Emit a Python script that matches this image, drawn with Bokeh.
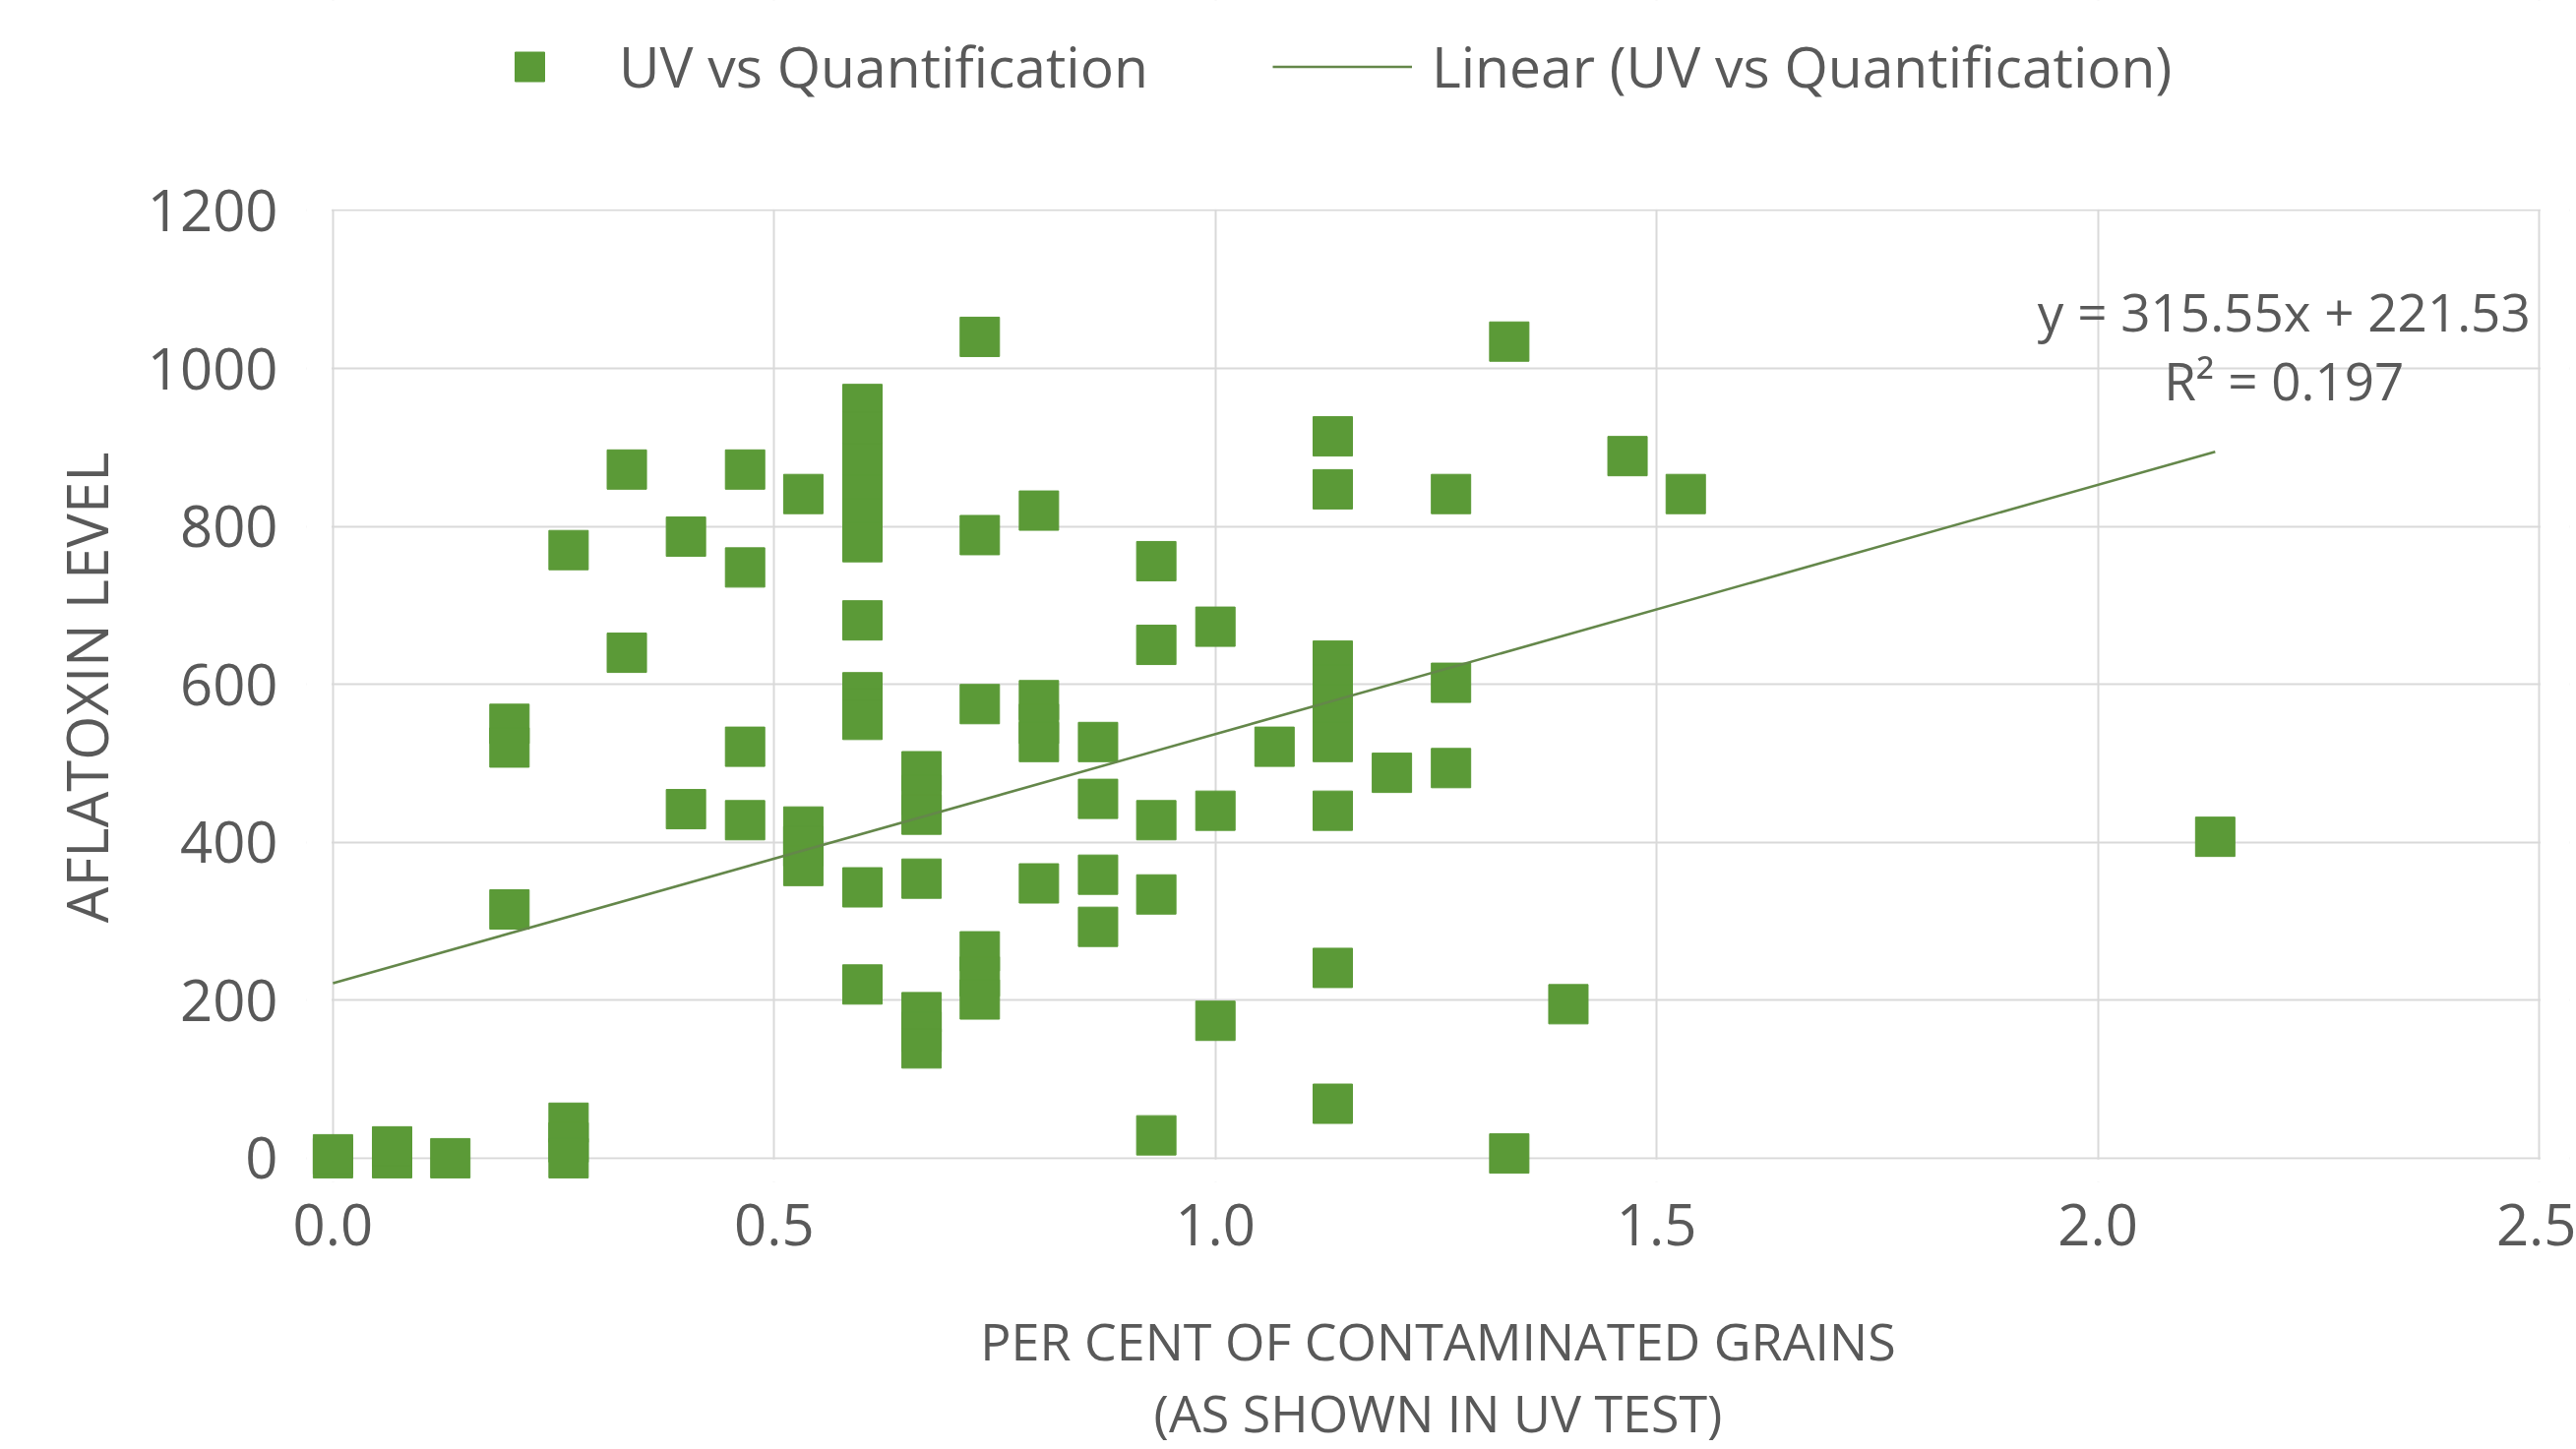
from bokeh.plotting import figure
from bokeh.models import (Range1d, FixedTicker, NumeralTickFormatter, Legend,
                          LegendItem, Label, ColumnDataSource, BoxAnnotation)
from bokeh.embed import file_html
from bokeh.resources import INLINE

# ---------------- data ----------------
percent_grains = (
    [0.0, 0.0]
    + [0.067, 0.067]
    + [0.133]
    + [0.2] * 3
    + [0.267] * 4
    + [0.333] * 2
    + [0.4] * 2
    + [0.467] * 4
    + [0.533] * 4
    + [0.6] * 12
    + [0.667] * 7
    + [0.733] * 6
    + [0.8] * 5
    + [0.867] * 4
    + [0.933] * 5
    + [1.0] * 3
    + [1.067]
    + [1.133] * 10
    + [1.2]
    + [1.267] * 3
    + [1.333] * 2
    + [1.4]
    + [1.467]
    + [1.533]
    + [2.133]
)
aflatoxin_level = [
    0, 5,
    0, 15,
    0,
    550, 520, 315,
    770, 45, 20, 0,
    872, 640,
    787, 442,
    872, 748, 521, 428,
    841, 420, 395, 370,
    955, 920, 880, 840, 810, 780, 681, 590, 570, 555, 343, 220,
    490, 460, 435, 354, 185, 160, 139,
    1040, 789, 575, 262, 230, 201,
    820, 580, 550, 527, 348,
    527, 455, 359, 293,
    756, 650, 428, 334, 29,
    673, 440, 174,
    521,
    914, 847, 630, 600, 575, 550, 527, 440, 241, 69,
    488,
    841, 602, 494,
    1034, 6,
    195,
    889,
    841,
    407,
]
trend_slope = 315.55
trend_intercept = 221.53
r_squared = 0.197
x_ticks = [0.0, 0.5, 1.0, 1.5, 2.0, 2.5]
y_ticks = [0, 200, 400, 600, 800, 1000, 1200]
series_label = "UV vs Quantification"
trend_label = "Linear (UV vs Quantification)"
x_title = "PER CENT OF CONTAMINATED GRAINS\n(AS SHOWN IN UV TEST)"
y_title = "AFLATOXIN LEVEL"

# ---------------- style ----------------
GREEN = "#5B9A37"
TREND = "#64874A"
TEXT = "#595959"
GRID = "#D9D9D9"
FONT = "Open Sans"

p = figure(width=2618, height=1473, output_backend="svg", toolbar_location=None,
           x_range=Range1d(-0.03, 2.5346), y_range=Range1d(-30, 1465.9),
           min_border_left=311, min_border_right=7, min_border_top=0,
           min_border_bottom=270)
p.outline_line_color = None
p.background_fill_color = "white"
p.border_fill_color = "white"

# grid
p.xgrid.grid_line_color = GRID
p.ygrid.grid_line_color = GRID
p.xgrid.grid_line_width = 2
p.ygrid.grid_line_width = 2

# keep grid lines inside the tick box (like the plot area of the original)
x0, x1 = x_ticks[0], x_ticks[-1]
y0, y1 = y_ticks[0], y_ticks[-1]
for kw in (dict(bottom=y1 + 1.6), dict(top=y0 - 1.6),
           dict(right=x0 - 0.0016), dict(left=x1 + 0.0016)):
    p.add_layout(BoxAnnotation(fill_color="white", fill_alpha=1.0,
                               line_color=None, level="underlay", **kw))

src = ColumnDataSource(dict(x=percent_grains, y=aflatoxin_level))
sc = p.scatter(x="x", y="y", source=src, marker="square", size=40,
               fill_color=GREEN, line_color=GREEN)

tx = [0.0, max(percent_grains)]
ty = [trend_slope * v + trend_intercept for v in tx]
ln = p.line(x=tx, y=ty, line_color=TREND, line_width=2.5)

# axes
for ax in (p.xaxis[0], p.yaxis[0]):
    ax.axis_line_color = None
    ax.major_tick_line_color = None
    ax.minor_tick_line_color = None
    ax.major_label_text_font = FONT
    ax.major_label_text_font_size = "58px"
    ax.major_label_text_color = TEXT
    ax.axis_label_text_font = FONT
    ax.axis_label_text_font_style = "normal"
    ax.axis_label_text_color = TEXT

p.xaxis[0].ticker = FixedTicker(ticks=x_ticks)
p.xaxis[0].formatter = NumeralTickFormatter(format="0.0")
p.xaxis[0].major_label_standoff = 16
p.xaxis[0].axis_label = x_title
p.xaxis[0].axis_label_text_font_size = "52px"
p.xaxis[0].axis_label_text_line_height = 1.03
p.xaxis[0].axis_label_standoff = 58

# the y title is centred on the 0-1200 box: pad its end with no-break spaces
p.yaxis[0].ticker = FixedTicker(ticks=y_ticks)
p.yaxis[0].major_label_standoff = 23
p.yaxis[0].axis_label = y_title + "\u00a0" * 13
p.yaxis[0].axis_label_text_font_size = "58px"
p.yaxis[0].axis_label_standoff = 20

legend = Legend(items=[LegendItem(label=series_label, renderers=[sc]),
                       LegendItem(label=trend_label, renderers=[ln])],
                orientation="horizontal", location=(156, 1095),
                glyph_width=142, glyph_height=75, label_standoff=20,
                spacing=126, padding=0, margin=0,
                border_line_color=None, background_fill_alpha=0,
                label_text_font=FONT, label_text_font_size="57px",
                label_text_color=TEXT)
p.add_layout(legend)

eq1 = Label(x=2.211, y=1072, text=f"y = {trend_slope}x + {trend_intercept}",
            text_align="center", text_baseline="middle", text_font=FONT,
            text_font_size="53px", text_color=TEXT)
eq2 = Label(x=2.211, y=985, text=f"R\u00b2 = {r_squared}",
            text_align="center", text_baseline="middle", text_font=FONT,
            text_font_size="53px", text_color=TEXT)
p.add_layout(eq1)
p.add_layout(eq2)

open("out.html", "w").write(file_html(p, INLINE))
